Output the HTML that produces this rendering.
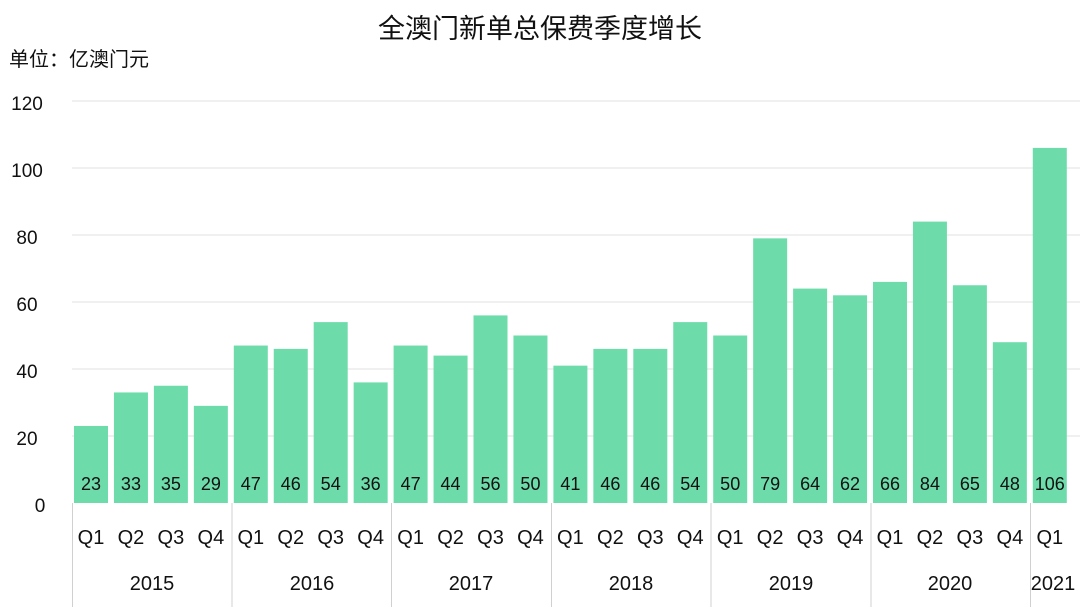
<!DOCTYPE html>
<html><head><meta charset="utf-8"><style>
body{margin:0;background:#fff;}
svg{display:block;font-family:"Liberation Sans","Noto Sans CJK SC",sans-serif;}
.b{fill:#6ddcaa}
.v{font-size:18px;fill:#111;text-anchor:middle}
.q{font-size:20px;fill:#111;text-anchor:middle}
</style></head><body>
<svg width="1080" height="607" viewBox="0 0 1080 607" xmlns="http://www.w3.org/2000/svg">
<rect width="1080" height="607" fill="#fff"/>
<text x="540" y="38" font-size="27" text-anchor="middle" fill="#111">全澳门新单总保费季度增长</text>
<text x="9" y="66" font-size="20" fill="#111">单位：亿澳门元</text>
<g stroke="#e6e6e6" stroke-width="1.2">
<line x1="72" x2="1080" y1="101" y2="101"/>
<line x1="72" x2="1080" y1="168" y2="168"/>
<line x1="72" x2="1080" y1="235" y2="235"/>
<line x1="72" x2="1080" y1="302" y2="302"/>
<line x1="72" x2="1080" y1="369" y2="369"/>
<line x1="72" x2="1080" y1="436" y2="436"/>
</g>
<g font-size="19" fill="#111" text-anchor="middle">
<text x="27" y="110">120</text><text x="27" y="177">100</text><text x="27" y="244">80</text>
<text x="27" y="311">60</text><text x="27" y="378">40</text><text x="27" y="445">20</text><text x="40" y="512">0</text>
</g>
<g transform="translate(74,0)"><rect class="b" x="0" y="425.95" width="34" height="77.05"/><text class="v" x="17" y="490">23</text><text class="q" x="17" y="544">Q1</text></g>
<g transform="translate(113.95,0)"><rect class="b" x="0" y="392.45" width="34" height="110.55"/><text class="v" x="17" y="490">33</text><text class="q" x="17" y="544">Q2</text></g>
<g transform="translate(153.9,0)"><rect class="b" x="0" y="385.75" width="34" height="117.25"/><text class="v" x="17" y="490">35</text><text class="q" x="17" y="544">Q3</text></g>
<g transform="translate(193.85,0)"><rect class="b" x="0" y="405.85" width="34" height="97.15"/><text class="v" x="17" y="490">29</text><text class="q" x="17" y="544">Q4</text></g>
<g transform="translate(233.8,0)"><rect class="b" x="0" y="345.55" width="34" height="157.45"/><text class="v" x="17" y="490">47</text><text class="q" x="17" y="544">Q1</text></g>
<g transform="translate(273.75,0)"><rect class="b" x="0" y="348.9" width="34" height="154.1"/><text class="v" x="17" y="490">46</text><text class="q" x="17" y="544">Q2</text></g>
<g transform="translate(313.7,0)"><rect class="b" x="0" y="322.1" width="34" height="180.9"/><text class="v" x="17" y="490">54</text><text class="q" x="17" y="544">Q3</text></g>
<g transform="translate(353.65,0)"><rect class="b" x="0" y="382.4" width="34" height="120.6"/><text class="v" x="17" y="490">36</text><text class="q" x="17" y="544">Q4</text></g>
<g transform="translate(393.6,0)"><rect class="b" x="0" y="345.55" width="34" height="157.45"/><text class="v" x="17" y="490">47</text><text class="q" x="17" y="544">Q1</text></g>
<g transform="translate(433.55,0)"><rect class="b" x="0" y="355.6" width="34" height="147.4"/><text class="v" x="17" y="490">44</text><text class="q" x="17" y="544">Q2</text></g>
<g transform="translate(473.5,0)"><rect class="b" x="0" y="315.4" width="34" height="187.6"/><text class="v" x="17" y="490">56</text><text class="q" x="17" y="544">Q3</text></g>
<g transform="translate(513.45,0)"><rect class="b" x="0" y="335.5" width="34" height="167.5"/><text class="v" x="17" y="490">50</text><text class="q" x="17" y="544">Q4</text></g>
<g transform="translate(553.4,0)"><rect class="b" x="0" y="365.65" width="34" height="137.35"/><text class="v" x="17" y="490">41</text><text class="q" x="17" y="544">Q1</text></g>
<g transform="translate(593.35,0)"><rect class="b" x="0" y="348.9" width="34" height="154.1"/><text class="v" x="17" y="490">46</text><text class="q" x="17" y="544">Q2</text></g>
<g transform="translate(633.3,0)"><rect class="b" x="0" y="348.9" width="34" height="154.1"/><text class="v" x="17" y="490">46</text><text class="q" x="17" y="544">Q3</text></g>
<g transform="translate(673.25,0)"><rect class="b" x="0" y="322.1" width="34" height="180.9"/><text class="v" x="17" y="490">54</text><text class="q" x="17" y="544">Q4</text></g>
<g transform="translate(713.2,0)"><rect class="b" x="0" y="335.5" width="34" height="167.5"/><text class="v" x="17" y="490">50</text><text class="q" x="17" y="544">Q1</text></g>
<g transform="translate(753.15,0)"><rect class="b" x="0" y="238.35" width="34" height="264.65"/><text class="v" x="17" y="490">79</text><text class="q" x="17" y="544">Q2</text></g>
<g transform="translate(793.1,0)"><rect class="b" x="0" y="288.6" width="34" height="214.4"/><text class="v" x="17" y="490">64</text><text class="q" x="17" y="544">Q3</text></g>
<g transform="translate(833.05,0)"><rect class="b" x="0" y="295.3" width="34" height="207.7"/><text class="v" x="17" y="490">62</text><text class="q" x="17" y="544">Q4</text></g>
<g transform="translate(873,0)"><rect class="b" x="0" y="281.9" width="34" height="221.1"/><text class="v" x="17" y="490">66</text><text class="q" x="17" y="544">Q1</text></g>
<g transform="translate(912.95,0)"><rect class="b" x="0" y="221.6" width="34" height="281.4"/><text class="v" x="17" y="490">84</text><text class="q" x="17" y="544">Q2</text></g>
<g transform="translate(952.9,0)"><rect class="b" x="0" y="285.25" width="34" height="217.75"/><text class="v" x="17" y="490">65</text><text class="q" x="17" y="544">Q3</text></g>
<g transform="translate(992.85,0)"><rect class="b" x="0" y="342.2" width="34" height="160.8"/><text class="v" x="17" y="490">48</text><text class="q" x="17" y="544">Q4</text></g>
<g transform="translate(1032.8,0)"><rect class="b" x="0" y="147.9" width="34" height="355.1"/><text class="v" x="17" y="490">106</text><text class="q" x="17" y="544">Q1</text></g>
<g stroke="#d0d0d0" stroke-width="1">
<line x1="72.5" x2="72.5" y1="503" y2="607"/>
<line x1="232" x2="232" y1="503" y2="607"/>
<line x1="391.5" x2="391.5" y1="503" y2="607"/>
<line x1="551.5" x2="551.5" y1="503" y2="607"/>
<line x1="711" x2="711" y1="503" y2="607"/>
<line x1="871" x2="871" y1="503" y2="607"/>
<line x1="1030.5" x2="1030.5" y1="503" y2="607"/>
</g>
<g font-size="20" fill="#111" text-anchor="middle">
<text x="152" y="590">2015</text><text x="312" y="590">2016</text><text x="471" y="590">2017</text>
<text x="631" y="590">2018</text><text x="791" y="590">2019</text><text x="950" y="590">2020</text><text x="1053" y="590">2021</text>
</g>
</svg>
</body></html>
